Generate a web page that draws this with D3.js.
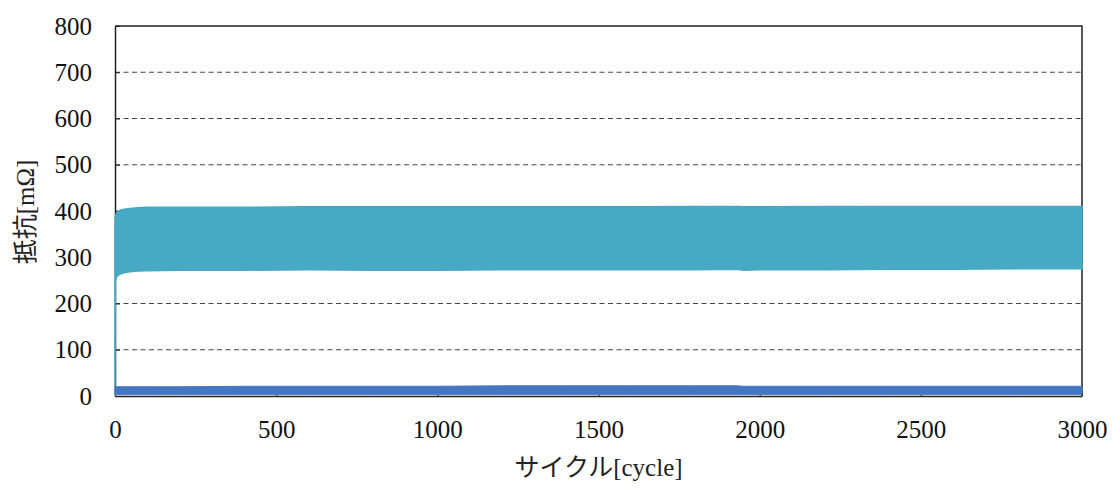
<!DOCTYPE html>
<html>
<head>
<meta charset="utf-8">
<script src="https://cdn.jsdelivr.net/npm/d3@7"></script>
<style>
  body { margin: 0; background: #fff; }
</style>
</head>
<body>
<div id="chart"></div>
<script>
var cycles   = [0, 1, 5, 10, 20, 40, 70, 100, 200, 400, 600, 800, 1000, 1200, 1400, 1600, 1800, 1930, 1950, 2000, 2200, 2400, 2600, 2800, 3000];
// upper series (teal) - max / min of each cycle's swing [mOhm]
var tealMax  = [385, 388, 396, 400, 403, 405, 407, 408, 408, 408, 409, 409, 409, 409, 409, 409, 410, 410, 409, 409, 410, 410, 410, 410, 410];
var tealMin  = [0, 250, 257, 261, 265, 268, 270, 271, 272, 272, 273, 272, 272, 273, 273, 273, 273, 274, 272, 273, 273, 274, 274, 275, 275];
// lower series (blue)
var blueMax  = [20, 20, 20, 20, 20, 20, 20, 20, 20, 21, 21, 21, 21, 22, 22, 22, 22, 22, 21, 21, 21, 21, 21, 21, 21];
var blueMin  = [3, 3, 3, 3, 3, 3, 3, 3, 3, 3, 3, 3, 3, 3, 3, 3, 3, 3, 3, 3, 3, 3, 3, 3, 3];

var xTicks = [0, 500, 1000, 1500, 2000, 2500, 3000];
var yTicks = [0, 100, 200, 300, 400, 500, 600, 700, 800];
var xTitle = "サイクル[cycle]";
var yTitle = "抵抗[mΩ]";

var width  = 1112,
    height = 491,
    margin = {top: 26, right: 30, bottom: 95, left: 115};

var serif = "'Liberation Serif', 'Times New Roman', serif";

var svg = d3.select("#chart")
  .append("svg")
    .attr("width", width)
    .attr("height", height);

var x = d3.scaleLinear().domain([0, 3000]).range([margin.left, width - margin.right]);
var y = d3.scaleLinear().domain([0, 800]).range([height - margin.bottom, margin.top]);

// dashed gridlines
svg.append("g")
  .selectAll("line")
  .data(yTicks.filter(function(d){ return d > 0 && d < 800; }))
  .enter().append("line")
    .attr("x1", x(0)).attr("x2", x(3000))
    .attr("y1", function(d){ return y(d); })
    .attr("y2", function(d){ return y(d); })
    .attr("stroke", "#444")
    .attr("stroke-width", 1.2)
    .attr("stroke-dasharray", "5,3.5");

// axes with inward ticks
svg.append("g")
  .attr("transform", "translate(0," + y(0) + ")")
  .call(d3.axisBottom(x).tickValues(xTicks).tickFormat(d3.format("d"))
          .tickSizeInner(-5).tickSizeOuter(0).tickPadding(24))
  .call(function(g){ g.select(".domain").attr("stroke", "#222").attr("stroke-width", 1.5); });

svg.append("g")
  .attr("transform", "translate(" + x(0) + ",0)")
  .call(d3.axisLeft(y).tickValues(yTicks).tickFormat(d3.format("d"))
          .tickSizeInner(-5).tickSizeOuter(0).tickPadding(23))
  .call(function(g){ g.select(".domain").attr("stroke", "#222").attr("stroke-width", 1.5); });

svg.selectAll(".tick text")
  .style("font-family", serif)
  .style("font-size", "25px")
  .style("fill", "#111");
svg.selectAll(".tick line").attr("stroke", "#222");

// top and right border of the plot area
svg.append("path")
  .attr("d", "M" + x(0) + "," + y(800) + "H" + x(3000) + "V" + y(0))
  .attr("fill", "none")
  .attr("stroke", "#222")
  .attr("stroke-width", 1.5);

// series bands (drawn over the axis lines, as in the original)
var rows = cycles.map(function(c, i){
  return {c: c, tMax: tealMax[i], tMin: tealMin[i], bMax: blueMax[i], bMin: blueMin[i]};
});

var tealArea = d3.area()
  .x(function(d){ return x(d.c); })
  .y0(function(d){ return y(d.tMin); })
  .y1(function(d){ return y(d.tMax); });

var blueArea = d3.area()
  .x(function(d){ return x(d.c); })
  .y0(function(d){ return y(d.bMin); })
  .y1(function(d){ return y(d.bMax); });

svg.append("path")
  .datum(rows)
  .attr("d", tealArea)
  .attr("fill", "#47A9C3")
  .attr("stroke", "#47A9C3")
  .attr("stroke-width", 1.5);

svg.append("path")
  .datum(rows)
  .attr("d", blueArea)
  .attr("fill", "#4576C2")
  .attr("stroke", "#4576C2")
  .attr("stroke-width", 1);

svg.append("text")
  .attr("x", x(1500))
  .attr("y", 476)
  .attr("text-anchor", "middle")
  .style("font-family", serif + ", 'Noto Sans CJK JP'")
  .style("font-size", "25px")
  .style("fill", "#222")
  .text(xTitle);

svg.append("text")
  .attr("transform", "translate(34,212) rotate(-90)")
  .attr("text-anchor", "middle")
  .style("font-family", serif + ", 'Noto Sans CJK JP'")
  .style("font-size", "25px")
  .style("fill", "#222")
  .text(yTitle);
</script>
</body>
</html>
